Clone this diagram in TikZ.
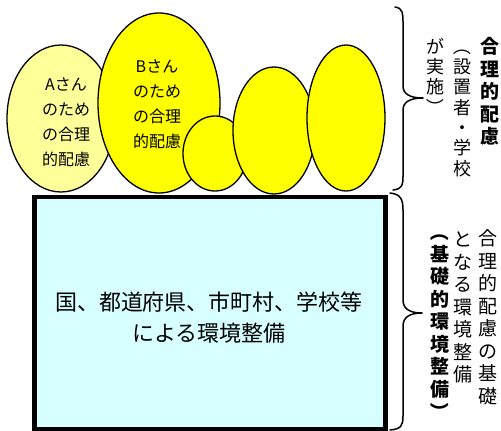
\documentclass[tikz,border=0pt]{standalone}
\usepackage{fontspec}
\setmainfont{Noto Sans CJK JP}
\newfontfamily\jp{Noto Sans CJK JP}
\usetikzlibrary{shapes.geometric}
\definecolor{paleyellow}{RGB}{255,255,153}
\definecolor{brightyellow}{RGB}{255,255,0}
\definecolor{palecyan}{RGB}{215,255,255}
\newcommand{\vopen}{\rotatebox[origin=c]{-90}{（}}
\newcommand{\vclose}{\rotatebox[origin=c]{-90}{）}}
\tikzset{
  bubble/.style={ellipse, draw=black, line width=1.3pt, inner sep=0pt},
  bubbletext/.style={align=center, inner sep=0pt, font=\jp\fontsize{16}{25}\selectfont},
  vcol/.style={align=center, inner sep=0pt, font=\jp\fontsize{19}{22.5}\selectfont},
  vcolb/.style={align=center, inner sep=0pt, font=\jp\bfseries\fontsize{19}{22.5}\selectfont},
  vcols/.style={align=center, inner sep=0pt, font=\jp\fontsize{18}{20.3}\selectfont},
  bracestyle/.style={draw=black, line width=1.5pt, line cap=round, line join=round},
  basebox/.style={draw=black, line width=4.5pt, fill=palecyan, inner sep=0pt}
}
\begin{document}
\begin{tikzpicture}[x=1pt,y=-1pt]
\useasboundingbox (0,0) rectangle (501,431);
% base rectangle
\node[basebox, minimum width=351pt, minimum height=232pt] (base) at (210,313) {};
\node[align=center, inner sep=0pt, font=\jp\fontsize{22}{31}\selectfont] (basetext) at (209,317.5)
  {国、都道府県、市町村、学校等\\による環境整備};
% bubbles
\node[bubble, fill=paleyellow, minimum width=108pt, minimum height=147pt] (ea) at (61,118.5) {};
\node[bubbletext] (ta) at (66,122.5) {Aさん\\のため\\の合理\\的配慮};
\node[bubble, fill=brightyellow, minimum width=122pt, minimum height=180pt] (eb) at (159,103) {};
\node[bubbletext] (tb) at (157,104.5) {Bさん\\のため\\の合理\\的配慮};
\node[bubble, fill=brightyellow, minimum width=64pt, minimum height=75pt] (ec) at (215,153.5) {};
\node[bubble, fill=brightyellow, minimum width=82pt, minimum height=127pt] (ed) at (274,130.5) {};
\node[bubble, fill=brightyellow, minimum width=78pt, minimum height=146pt] (ee) at (346,118) {};
% braces
\coordinate (b1top) at (395,7);
\coordinate (b1tip) at (423,98);
\coordinate (b1bot) at (393,190);
\draw[bracestyle] (b1top) .. controls (403,8) and (403,14) .. (403,22) -- (403,86)
  .. controls (403,94) and (410,98) .. (b1tip)
  .. controls (410,98) and (403,102) .. (403,110) -- (403,176)
  .. controls (403,184) and (403,189) .. (b1bot);
\coordinate (b2top) at (390,193);
\coordinate (b2tip) at (422,313);
\coordinate (b2bot) at (390,430);
\draw[bracestyle] (b2top) .. controls (401,194) and (403,200) .. (403,210) -- (403,300)
  .. controls (403,309) and (410,313) .. (b2tip)
  .. controls (410,313) and (403,317) .. (403,326) -- (403,416)
  .. controls (403,426) and (401,429) .. (b2bot);
% vertical texts (top)
\node[vcolb] (v1) at (490,91.5) {合\\理\\的\\配\\慮};
\node[vcols] (v2) at (462,107) {\vopen\\設\\置\\者\\・\\学\\校};
\node[vcols] (v3) at (435,77) {が\\実\\施\\\vclose};
% vertical texts (bottom)
\node[vcol] (v4) at (488,317.5) {合\\理\\的\\配\\慮\\の\\基\\礎};
\node[vcol] (v5) at (463,307.5) {と\\な\\る\\環\\境\\整\\備};
\node[vcolb] (v6) at (440,321.5) {\vopen\\基\\礎\\的\\環\\境\\整\\備\\\vclose};
\end{tikzpicture}
\end{document}
